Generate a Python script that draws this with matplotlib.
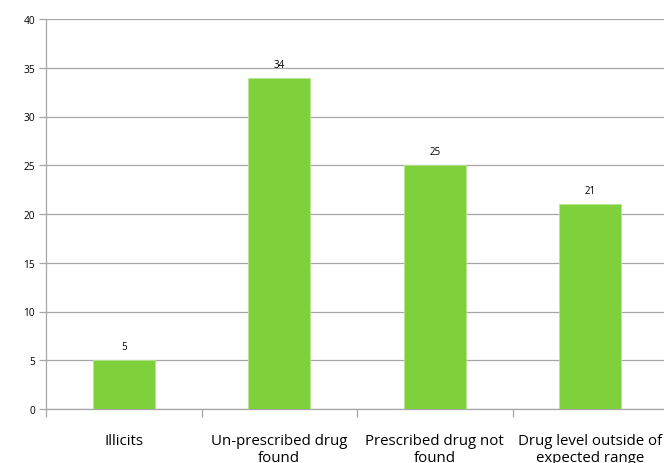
import matplotlib
matplotlib.use("Agg")
import matplotlib.pyplot as plt
import numpy as np

categories = ["Illicits", "Un-prescribed drug\nfound", "Prescribed drug not\nfound",
              "Drug level outside of\nexpected range"]
counts = [5, 34, 25, 21]
y_ticks = [0, 5, 10, 15, 20, 25, 30, 35, 40]

plt.rcParams["font.family"] = ["Open Sans", "DejaVu Sans"]

W, H = 664, 464
fig = plt.figure(figsize=(W / 100, H / 100), dpi=100)
left, right, top, bottom = 46, 668, 20, 410
ax = fig.add_axes([left / W, 1 - bottom / H, (right - left) / W, (bottom - top) / H])

x = np.arange(len(categories))
ax.bar(x, counts, width=0.4, color="#7FD13B", edgecolor="#B8E68F", linewidth=0.6, zorder=3)
for xi, v in zip(x, counts):
    ax.text(xi, v + 0.8, str(v), ha="center", va="bottom", fontsize=7, color="#000000")

ax.set_xlim(-0.5, len(categories) - 0.5)
ax.set_ylim(0, 40)
ax.set_yticks(y_ticks)
ax.set_yticklabels([str(t) for t in y_ticks], fontsize=7.3)
ax.yaxis.grid(True, color="#A6A6A6", linewidth=0.9, zorder=0)

ax.set_xticks(x)
ax.set_xticklabels(categories, fontsize=10.8, linespacing=1.2)
ax.tick_params(axis="x", length=0, pad=17)
ax.set_xticks(np.arange(-0.5, len(categories)), minor=True)
ax.tick_params(axis="x", which="minor", length=6, color="#A6A6A6", width=0.9)
ax.tick_params(axis="y", length=5, color="#A6A6A6", width=0.9, pad=3)

for s in ["top", "right"]:
    ax.spines[s].set_visible(False)
for s in ["left", "bottom"]:
    ax.spines[s].set_color("#A6A6A6")
    ax.spines[s].set_linewidth(0.9)

fig.savefig("out.png", dpi=100)
